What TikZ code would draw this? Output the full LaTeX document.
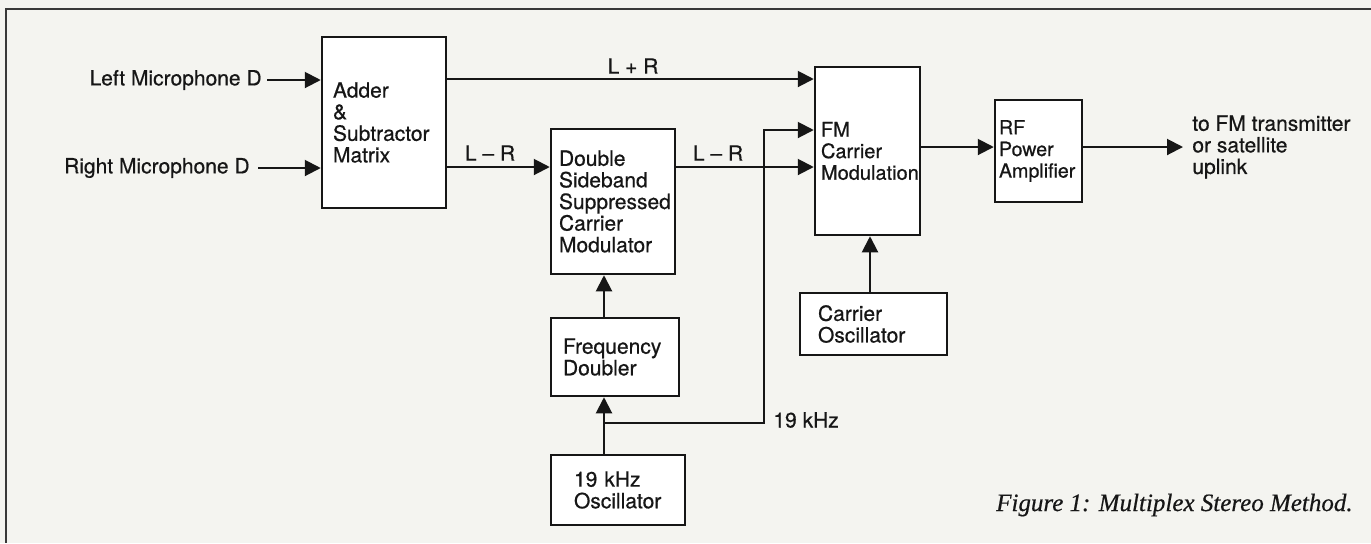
\documentclass[tikz,border=0pt]{standalone}
\usepackage{fontspec}
\setmainfont{TeX Gyre Heros}[UprightFeatures={FakeBold=0.6}]
\newfontfamily\capfont{Liberation Serif}[ItalicFeatures={FakeBold=0.5}]
\usetikzlibrary{arrows.meta}
\definecolor{paper}{RGB}{244,244,240}
\definecolor{ink}{RGB}{22,22,22}
\begin{document}
\begin{tikzpicture}[x=0.5pt,y=-0.5pt,
  every node/.style={font=\fontsize{10.5}{10.8}\selectfont, text=ink},
  small/.style={font=\fontsize{10}{10.8}\selectfont},
  blk/.style={draw=ink, line width=1.25pt, fill=white, align=left, inner ysep=0pt, anchor=center},
  arr/.style={draw=ink, line width=1pt, -{Triangle[length=8pt,width=8pt]}},
  frame/.style={draw=ink!85, line width=1pt},
  lbl/.style={inner sep=0pt}]
\fill[paper, use as bounding box] (0,0) rectangle (1371,543);
\draw[frame] (1371,9) -- (6,9) -- (6,543);

% blocks
\node[blk, minimum width=62pt, minimum height=85.5pt, inner xsep=5.5pt, text width=51pt] (adder) at (384,122.5) {Adder\\\&\\Subtractor\\Matrix};
\node[blk, minimum width=62pt, minimum height=72.5pt, inner xsep=4pt, text width=54pt] (dsb) at (613,201.5) {Double\\Sideband\\Suppressed\\Carrier\\Modulator};
\node[blk, small, minimum width=52.5pt, minimum height=84pt, inner xsep=3pt, text width=46.5pt] (fm) at (867.5,151) {FM\\Carrier\\Modulation};
\node[blk, font=\fontsize{9.8}{10.8}\selectfont, minimum width=43.5pt, minimum height=51pt, inner xsep=2pt, text width=39.5pt] (rf) at (1038.5,151) {RF\\Power\\Amplifier};
\node[blk, minimum width=64pt, minimum height=39pt, inner xsep=6pt, text width=52pt] (fd) at (615,357) {Frequency\\Doubler};
\node[blk, minimum width=67pt, minimum height=35pt, inner xsep=11.5pt, text width=44pt] (osc) at (618,490) {19 kHz\\Oscillator};
\node[blk, minimum width=73.5pt, minimum height=31pt, inner xsep=9pt, text width=55.5pt] (co) at (873.5,324) {Carrier\\Oscillator};

% inputs / outputs
\node[lbl, anchor=east] (lm) at (262,80) {Left Microphone D};
\node[lbl, anchor=east] (rm) at (250,168) {Right Microphone D};
\node[anchor=west, align=left, inner xsep=4.5pt, inner ysep=0pt] (out) at (1183,147) {to FM transmitter\\or satellite\\uplink};

% helper coordinates
\coordinate (yLR) at (0,79);
\coordinate (yLmR) at (0,167);
\coordinate (yTop) at (0,130);
\coordinate (y19) at (0,423);
\coordinate (yRF) at (0,147);
\coordinate (xv) at (604,0);
\coordinate (xr) at (764,0);
\coordinate (xco) at (870,0);

% connectors
\draw[arr] ([xshift=2.5pt]lm.east) -- (adder.west |- lm.east);
\draw[arr] ([xshift=4pt]rm.east) -- (adder.west |- rm.east);
\draw[arr] (adder.east |- yLR) -- (fm.west |- yLR);
\draw[arr] (adder.east |- yLmR) -- (dsb.west |- yLmR);
\draw[arr] (dsb.east |- yLmR) -- (fm.west |- yLmR);
\draw[arr] (osc.north -| xv) -- (fd.south -| xv);
\draw[arr] (fd.north -| xv) -- (dsb.south -| xv);
\draw[arr] (xv |- y19) -- (xr |- y19) -- (xr |- yTop) -- (fm.west |- yTop);
\draw[arr] (co.north -| xco) -- (fm.south -| xco);
\draw[arr] (fm.east |- yRF) -- (rf.west |- yRF);
\draw[arr] (rf.east |- out.west) -- (out.west);

% labels
\node[lbl] (lpr) at (633,66) {L + R};
\node[lbl] (lmr1) at (490,153) {L – R};
\node[lbl] (lmr2) at (718,153) {L – R};
\node[lbl, anchor=west] (khz) at (773,420) {19 kHz};
\node[lbl, anchor=east, font={\capfont\itshape\fontsize{12.5}{14}\selectfont}] (cap) at (1353,505) {Figure 1: Multiplex Stereo Method.};
\end{tikzpicture}
\end{document}
